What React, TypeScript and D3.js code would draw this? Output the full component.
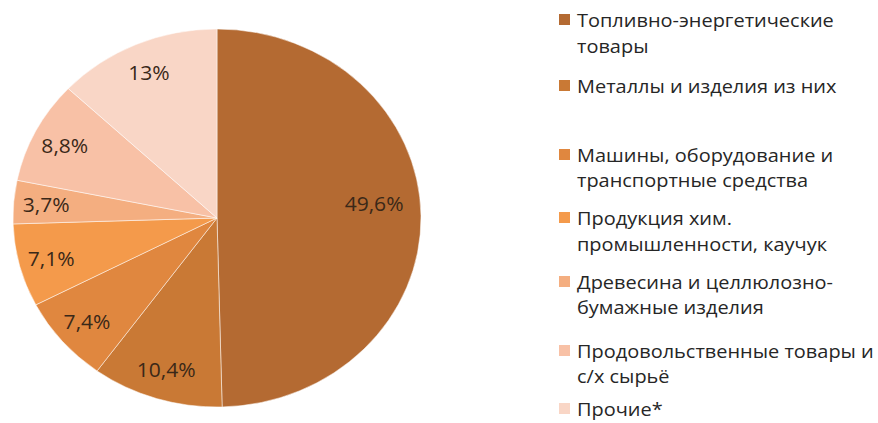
import React from "react";
import * as d3 from "d3";

const categories = [
  "Топливно-энергетические товары",
  "Металлы и изделия из них",
  "Машины, оборудование и транспортные средства",
  "Продукция хим. промышленности, каучук",
  "Древесина и целлюлозно-бумажные изделия",
  "Продовольственные товары и с/х сырьё",
  "Прочие*",
];
const legendLines = [
  ["Топливно-энергетические", "товары"],
  ["Металлы и изделия из них"],
  ["Машины, оборудование и", "транспортные средства"],
  ["Продукция хим.", "промышленности, каучук"],
  ["Древесина и целлюлозно-", "бумажные изделия"],
  ["Продовольственные товары и", "с/х сырьё"],
  ["Прочие*"],
];
const values = [49.6, 10.4, 7.4, 7.1, 3.7, 8.8, 13];
const valueLabels = ["49,6%", "10,4%", "7,4%", "7,1%", "3,7%", "8,8%", "13%"];
const colors = ["#B46A32", "#C97935", "#E0873F", "#F49A4B", "#F4AE80", "#F8C1A6", "#F9D6C6"];

export default function App() {
  const W = 878, H = 423;
  const cx = 217, cy = 218, ry = 189, rx = 204;
  const sx = rx / ry;
  const pie = d3.pie<number>().sort(null).value((d) => d);
  const arcs = pie(values);
  const arc = d3.arc<d3.PieArcDatum<number>>().innerRadius(0).outerRadius(ry);

  const legendBaselines = [
    [27, 53], [93], [162, 187], [225, 251], [289, 314], [358, 383], [416],
  ];
  const font = "'Open Sans', sans-serif";

  return (
    <svg width={W} height={H} style={{ position: "absolute", left: 0, top: 0, background: "#fff" }}>
      <rect width={W} height={H} fill="#fff" />
      <g transform={`translate(${cx},${cy}) scale(${sx},1)`}>
        {arcs.map((a, i) => (
          <path key={i} d={arc(a) || ""} fill={colors[i]} stroke="#fff" strokeOpacity={0.5} strokeWidth={1} vectorEffect="non-scaling-stroke" />
        ))}
      </g>
      {arcs.map((a, i) => {
        const big = a.endAngle - a.startAngle > Math.PI * 0.8;
        const f = big ? 0.77 : 0.84;
        const la = d3.arc<d3.PieArcDatum<number>>().innerRadius(ry * f).outerRadius(ry * f);
        const [x, y] = la.centroid(a);
        const px = cx + x * sx;
        const py = cy + y + (big ? -13 : 0);
        return (
          <text key={i} transform={`translate(${px},${py}) scale(${sx},1)`} textAnchor="middle" dominantBaseline="central"
            fontFamily={font} fontSize={19.5} fill="#3a2818">{valueLabels[i]}</text>
        );
      })}
      {categories.map((c, i) => {
        const bl = legendBaselines[i];
        return (
          <g key={c}>
            <rect x={559} y={bl[0] - 13} width={11} height={11} fill={colors[i]} />
            {legendLines[i].map((ln, j) => (
              <text key={j} transform={`translate(577,${bl[j]}) scale(${sx},1)`} fontFamily={font} fontSize={18.5} fill="#262626">{ln}</text>
            ))}
          </g>
        );
      })}
    </svg>
  );
}
